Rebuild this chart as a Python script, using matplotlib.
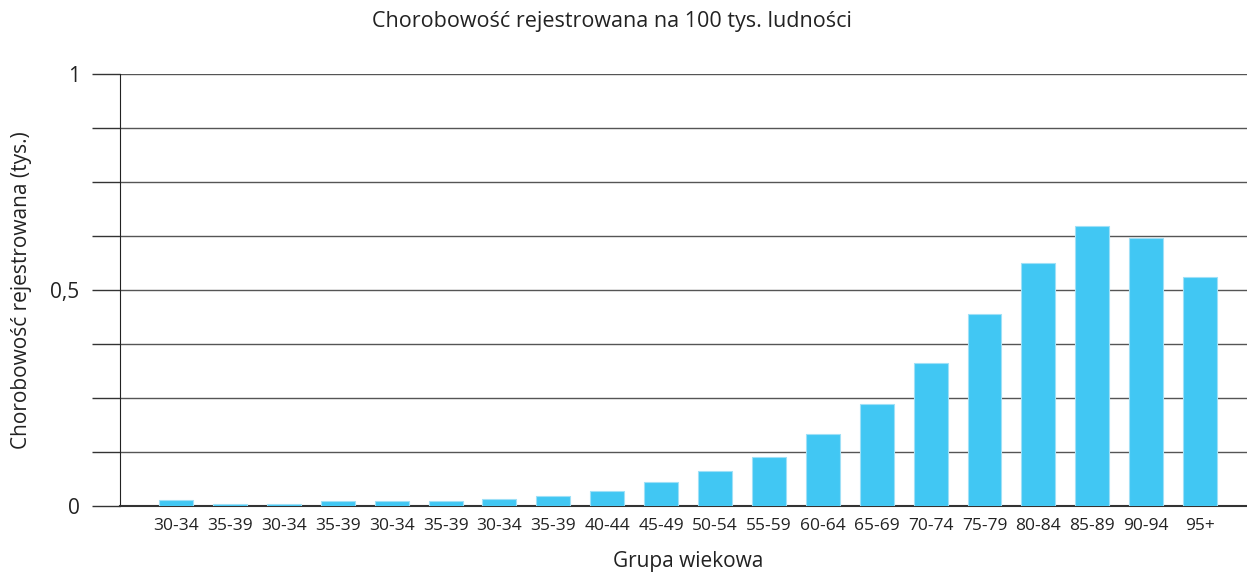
import matplotlib
matplotlib.use("Agg")
import matplotlib.pyplot as plt
import numpy as np

categories = ["30-34", "35-39", "30-34", "35-39", "30-34", "35-39", "30-34", "35-39",
              "40-44", "45-49", "50-54", "55-59", "60-64", "65-69", "70-74", "75-79",
              "80-84", "85-89", "90-94", "95+"]
values = [0.014, 0.004, 0.004, 0.011, 0.011, 0.011, 0.016, 0.024,
          0.035, 0.055, 0.081, 0.113, 0.166, 0.237, 0.331, 0.444,
          0.562, 0.647, 0.620, 0.530]
y_ticks = [0, 0.5, 1]
y_tick_labels = ["0", "0,5", "1"]

plt.rcParams['font.family'] = ['Open Sans', 'DejaVu Sans']

fig = plt.figure(figsize=(12.47, 5.73), dpi=100)
ax = fig.add_axes([120/1247, 67/573, 1 - 120/1247, 432/573])

x = np.arange(len(categories))
ax.bar(x, values, width=0.63, color="#41c7f3", edgecolor="#9fe0f7", linewidth=0.8, zorder=3)

ax.set_xlim(-1.04, 19.87)
ax.set_ylim(0, 1)
ax.set_yticks(y_ticks)
ax.set_yticklabels(y_tick_labels, fontsize=15, color="#222222")
ax.set_yticks(np.arange(0, 1.001, 0.125), minor=True)
ax.tick_params(axis='y', which='both', length=20, width=1, color="#333333", pad=9)
ax.grid(axis='y', which='both', color="#555555", linewidth=1, zorder=0)
ax.set_xticks(x)
ax.set_xticklabels(categories, fontsize=12.5, color="#222222")
ax.tick_params(axis='x', length=0, pad=9)

for s in ["top", "right"]:
    ax.spines[s].set_visible(False)
ax.spines["left"].set_color("#222222")
ax.spines["bottom"].set_color("#333333")
ax.spines["bottom"].set_linewidth(1.5)

fig.text(688/1247, 1 - 562/573, "Grupa wiekowa", ha="center", va="center",
         fontsize=15, color="#222222")
fig.text(22/1247, 1 - 290/573, "Chorobowość rejestrowana (tys.)", ha="center", va="center",
         rotation=90, fontsize=15, color="#222222")
fig.text(612/1247, 1 - 22/573, "Chorobowość rejestrowana na 100 tys. ludności",
         ha="center", va="center", fontsize=15.5, color="#222222")

fig.savefig("out.png", dpi=100)
